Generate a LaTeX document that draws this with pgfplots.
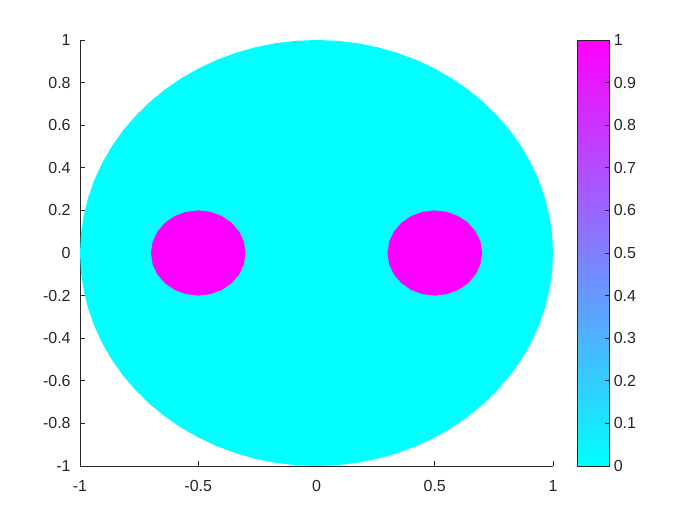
\documentclass[border=0pt]{standalone}
\usepackage{fontspec}
\setmainfont{Liberation Sans}
\usepackage{pgfplots}
\pgfplotsset{compat=1.18}
\definecolor{mlcyan}{RGB}{0,255,255}
\definecolor{mlmag}{RGB}{255,0,255}
\definecolor{axgray}{RGB}{38,38,38}

\begin{document}
\begin{tikzpicture}
\path[use as bounding box] (-60pt,-44.25pt) rectangle (465pt,349.5pt);
\begin{axis}[
    at={(0,0)}, anchor=south west,
    scale only axis,
    width=354.75pt, height=319.5pt,
    xmin=-1, xmax=1, ymin=-1, ymax=1,
    axis lines*=left,
    axis line style={axgray, line width=0.6pt},
    tick align=inside,
    major tick length=3.5pt,
    tick style={axgray, line width=0.6pt},
    xtick={-1,-0.5,0,0.5,1},
    ytick={-1,-0.8,-0.6,-0.4,-0.2,0,0.2,0.4,0.6,0.8,1},
    ticklabel style={text=axgray, font=\fontsize{12}{14}\selectfont},
    xticklabel style={yshift=-7pt},
    yticklabel style={xshift=-3.5pt},
    /pgf/number format/assume math mode=true,
    /pgf/number format/fixed,
    colormap={cool}{rgb255=(0,255,255) rgb255=(255,0,255)},
    point meta min=0, point meta max=1,
    colorbar,
    colorbar/width=24pt,
    colorbar style={
        at={(parent axis.north east)}, anchor=north west,
        xshift=9.5pt,
        ytick={0,0.1,0.2,0.3,0.4,0.5,0.6,0.7,0.8,0.9,1},
        ytick pos=right, yticklabel pos=right,
        tick align=inside,
        major tick length=3pt,
        axis line style={axgray, line width=0.6pt},
        tick style={axgray, line width=0.6pt},
        ticklabel style={text=axgray, font=\fontsize{12}{14}\selectfont},
        /pgf/number format/assume math mode=true,
        /pgf/number format/fixed,
    },
]
% domain disk, value 0
\addplot[fill=mlcyan, draw=none] coordinates {
(1,0) (0.9962,0.0872) (0.9848,0.1736) (0.9659,0.2588) (0.9397,0.3420) (0.9063,0.4226)
(0.8660,0.5) (0.8192,0.5736) (0.7660,0.6428) (0.7071,0.7071) (0.6428,0.7660) (0.5736,0.8192)
(0.5,0.8660) (0.4226,0.9063) (0.3420,0.9397) (0.2588,0.9659) (0.1736,0.9848) (0.0872,0.9962)
(0,1) (-0.0872,0.9962) (-0.1736,0.9848) (-0.2588,0.9659) (-0.3420,0.9397) (-0.4226,0.9063)
(-0.5,0.8660) (-0.5736,0.8192) (-0.6428,0.7660) (-0.7071,0.7071) (-0.7660,0.6428) (-0.8192,0.5736)
(-0.8660,0.5) (-0.9063,0.4226) (-0.9397,0.3420) (-0.9659,0.2588) (-0.9848,0.1736) (-0.9962,0.0872)
(-1,0) (-0.9962,-0.0872) (-0.9848,-0.1736) (-0.9659,-0.2588) (-0.9397,-0.3420) (-0.9063,-0.4226)
(-0.8660,-0.5) (-0.8192,-0.5736) (-0.7660,-0.6428) (-0.7071,-0.7071) (-0.6428,-0.7660) (-0.5736,-0.8192)
(-0.5,-0.8660) (-0.4226,-0.9063) (-0.3420,-0.9397) (-0.2588,-0.9659) (-0.1736,-0.9848) (-0.0872,-0.9962)
(0,-1) (0.0872,-0.9962) (0.1736,-0.9848) (0.2588,-0.9659) (0.3420,-0.9397) (0.4226,-0.9063)
(0.5,-0.8660) (0.5736,-0.8192) (0.6428,-0.7660) (0.7071,-0.7071) (0.7660,-0.6428) (0.8192,-0.5736)
(0.8660,-0.5) (0.9063,-0.4226) (0.9397,-0.3420) (0.9659,-0.2588) (0.9848,-0.1736) (0.9962,-0.0872)
} -- cycle;
% left inclusion, value 1
\addplot[fill=mlmag, draw=none] coordinates {
(-0.3,0) (-0.3068,0.0518) (-0.3268,0.1) (-0.3586,0.1414) (-0.4,0.1732) (-0.4482,0.1932)
(-0.5,0.2) (-0.5518,0.1932) (-0.6,0.1732) (-0.6414,0.1414) (-0.6732,0.1) (-0.6932,0.0518)
(-0.7,0) (-0.6932,-0.0518) (-0.6732,-0.1) (-0.6414,-0.1414) (-0.6,-0.1732) (-0.5518,-0.1932)
(-0.5,-0.2) (-0.4482,-0.1932) (-0.4,-0.1732) (-0.3586,-0.1414) (-0.3268,-0.1) (-0.3068,-0.0518)
} -- cycle;
% right inclusion, value 1
\addplot[fill=mlmag, draw=none] coordinates {
(0.7,0) (0.6932,0.0518) (0.6732,0.1) (0.6414,0.1414) (0.6,0.1732) (0.5518,0.1932)
(0.5,0.2) (0.4482,0.1932) (0.4,0.1732) (0.3586,0.1414) (0.3268,0.1) (0.3068,0.0518)
(0.3,0) (0.3068,-0.0518) (0.3268,-0.1) (0.3586,-0.1414) (0.4,-0.1732) (0.4482,-0.1932)
(0.5,-0.2) (0.5518,-0.1932) (0.6,-0.1732) (0.6414,-0.1414) (0.6732,-0.1) (0.6932,-0.0518)
} -- cycle;
\end{axis}
\end{tikzpicture}
\end{document}
